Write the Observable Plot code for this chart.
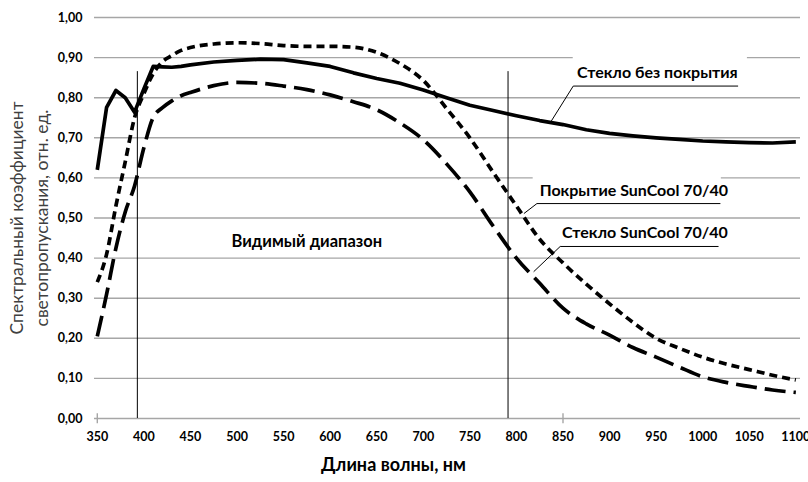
<!DOCTYPE html>
<html>
<head>
<meta charset="utf-8">
<script src="https://cdn.jsdelivr.net/npm/d3@7"></script>
<script src="https://cdn.jsdelivr.net/npm/@observablehq/plot@0.6"></script>
<style>
  html, body { margin: 0; padding: 0; background: #fff; }
</style>
</head>
<body>
<div id="chart"></div>
<script>
// Wavelength, nm
const wavelengths = [350,360,370,380,390,400,410,420,430,440,450,475,500,525,550,575,600,625,650,675,700,725,750,775,800,825,850,875,900,925,950,975,1000,1025,1050,1075,1100];
// Стекло без покрытия (solid)
const bareGlass = [0.620,0.776,0.818,0.800,0.764,0.822,0.878,0.877,0.876,0.878,0.882,0.889,0.893,0.896,0.895,0.887,0.878,0.862,0.848,0.836,0.819,0.800,0.781,0.768,0.755,0.743,0.733,0.720,0.711,0.705,0.700,0.696,0.692,0.690,0.688,0.687,0.690];
// Покрытие SunCool 70/40 (short dash)
const coating = [0.340,0.410,0.530,0.640,0.750,0.810,0.860,0.890,0.905,0.918,0.925,0.934,0.937,0.935,0.930,0.928,0.928,0.926,0.913,0.885,0.843,0.773,0.700,0.614,0.530,0.447,0.388,0.335,0.286,0.240,0.200,0.175,0.153,0.136,0.122,0.108,0.096];
// Стекло SunCool 70/40 (long dash)
const coatedGlass = [0.205,0.310,0.425,0.515,0.580,0.675,0.751,0.775,0.792,0.805,0.813,0.830,0.838,0.836,0.829,0.820,0.807,0.790,0.770,0.737,0.695,0.635,0.565,0.480,0.400,0.337,0.275,0.236,0.208,0.177,0.153,0.128,0.104,0.090,0.080,0.071,0.065];

const xTicks = [350,400,450,500,550,600,650,700,750,800,850,900,950,1000,1050,1100];
const yTicks = [0,0.1,0.2,0.3,0.4,0.5,0.6,0.7,0.8,0.9,1.0];
const axisMarkTicks = [350, 850];

// Visible range boundaries
const visibleBounds = [393, 791];
const visibleTop = 0.865;
const visibleLabel = "Видимый диапазон";
const visibleLabelPos = {x: 575, y: 0.442};

// Series labels with leader lines (data units)
const seriesLabels = [
  {text: "Стекло без покрытия", x: 865, y: 0.862, ux1: 861, ux2: 1038, uy: 0.829, lx: 837.5, ly: 0.742, bx1: 861, bx2: 1048, by1: 0.915, by2: 0.84},
  {text: "Покрытие SunCool 70/40", x: 825, y: 0.568, ux1: 822, ux2: 1019, uy: 0.536, lx: 808, ly: 0.511, bx1: 818, bx2: 1020, by1: 0.612, by2: 0.55},
  {text: "Стекло SunCool 70/40", x: 849, y: 0.463, ux1: 847, ux2: 1017, uy: 0.429, lx: 818.5, ly: 0.366, bx1: 847, bx2: 1020, by1: 0.49, by2: 0.44}
];

const xTitle = "Длина волны, нм";
const xTitlePos = 668;
const yTitle1 = "Спектральный коэффициент";
const yTitle2 = "светопропускания, отн. ед.";

const series = [
  {name: "Стекло без покрытия", values: bareGlass, dash: null, curve: "linear"},
  {name: "Покрытие SunCool 70/40", values: coating, dash: "8,5", curve: "monotone-x"},
  {name: "Стекло SunCool 70/40", values: coatedGlass, dash: "21,8", curve: "monotone-x"}
];

const FONT = "Lato, 'Open Sans', sans-serif";
const fmt = d => d.toFixed(2).replace(".", ",");

const lineMarks = series.map(s => Plot.line(
  wavelengths.map((w, i) => ({w, v: s.values[i]})),
  {x: "w", y: "v", stroke: "black", strokeWidth: 3.7, curve: s.curve,
   strokeDasharray: s.dash || undefined, strokeLinecap: "butt", strokeLinejoin: "round"}
));

const chart = Plot.plot({
  width: 808,
  height: 482,
  marginLeft: 94,
  marginRight: 8,
  marginTop: 17,
  marginBottom: 64,
  style: {fontFamily: FONT, fontSize: "13px", color: "black", background: "white"},
  x: {domain: [347, 1105], axis: null},
  y: {domain: [0, 1], axis: null},
  marks: [
    Plot.ruleY(yTicks.filter(d => d > 0), {stroke: "#a6a6a6", strokeWidth: 1.4}),
    Plot.ruleY([0], {stroke: "#a6a6a6", strokeWidth: 1.4}),
    Plot.rect(seriesLabels, {x1: "bx1", x2: "bx2", y1: "by1", y2: "by2", fill: "white"}),
    Plot.ruleX(axisMarkTicks, {y1: -0.013, y2: 0.012, stroke: "#a6a6a6", strokeWidth: 1.4}),
    Plot.ruleX(visibleBounds, {y1: 0, y2: visibleTop, stroke: "black", strokeWidth: 1}),
    ...lineMarks,
    Plot.link(seriesLabels, {x1: "ux1", x2: "ux2", y1: "uy", y2: "uy", stroke: "black", strokeWidth: 1}),
    Plot.link(seriesLabels, {x1: "ux1", y1: "uy", x2: "lx", y2: "ly", stroke: "black", strokeWidth: 1}),
    Plot.text(seriesLabels, {x: "x", y: "y", text: "text", textAnchor: "start", fontSize: 16, fontWeight: "bold", fill: "black"}),
    Plot.text([visibleLabel], {x: () => visibleLabelPos.x, y: () => visibleLabelPos.y, text: d => d, fontSize: 16.5, fontWeight: "bold", fill: "black"}),
    Plot.axisX({ticks: xTicks, tickSize: 0, tickPadding: 14, fontSize: 12.5, fontWeight: "bold", tickFormat: d => String(d)}),
    Plot.axisY({ticks: yTicks, tickSize: 0, tickPadding: 12, fontSize: 12.5, fontWeight: "bold", tickFormat: fmt}),
    Plot.text([xTitle], {x: () => xTitlePos, frameAnchor: "bottom", textAnchor: "middle", dy: 52, text: d => d, fontSize: 18, fontWeight: "bold", fill: "black"}),
    Plot.text([yTitle1], {frameAnchor: "left", textAnchor: "middle", dx: -77.5, rotate: -90, text: d => d, fontSize: 17.5, fill: "#404040"}),
    Plot.text([yTitle2], {frameAnchor: "left", textAnchor: "middle", dx: -52.5, rotate: -90, text: d => d, fontSize: 17.5, fill: "#404040"})
  ]
});
document.getElementById("chart").appendChild(chart);
</script>
</body>
</html>
